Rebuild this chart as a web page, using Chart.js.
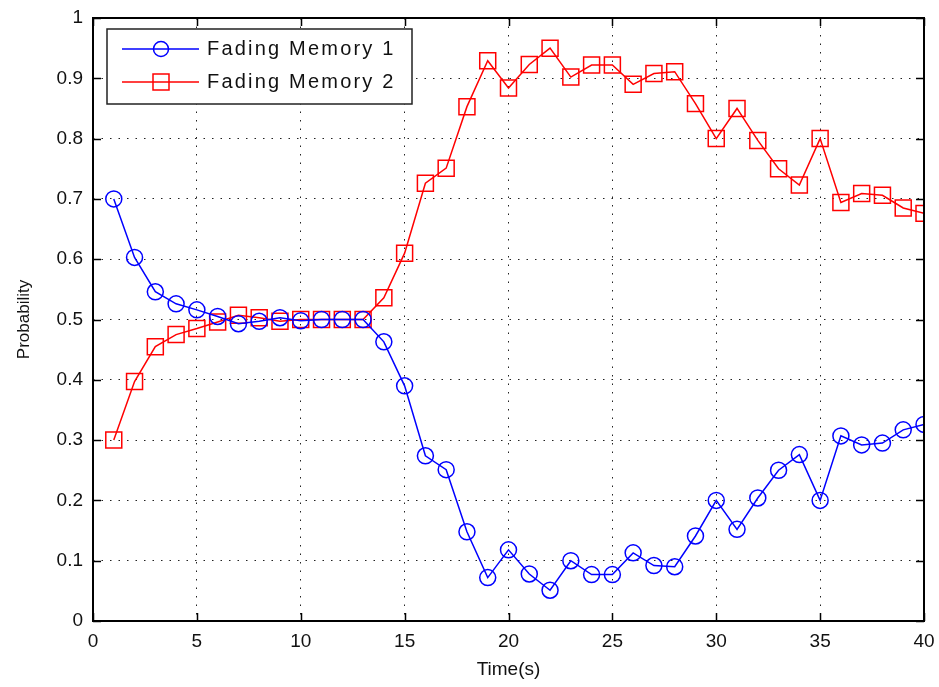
<!DOCTYPE html>
<html><head><meta charset="utf-8">
<script src="https://cdn.jsdelivr.net/npm/chart.js@4"></script>
<style>html,body{margin:0;padding:0;background:#fff;}#wrap{width:939px;height:687px;}</style>
</head><body><div id="wrap"><canvas id="c" width="939" height="687"></canvas></div>
<script>
const times = [1,2,3,4,5,6,7,8,9,10,11,12,13,14,15,16,17,18,19,20,21,22,23,24,25,26,27,28,29,30,31,32,33,34,35,36,37,38,39,40];
const fadingMemory1 = [0.70,0.603,0.546,0.526,0.516,0.505,0.493,0.497,0.503,0.498,0.500,0.500,0.500,0.463,0.390,0.274,0.251,0.148,0.072,0.118,0.078,0.051,0.100,0.077,0.077,0.113,0.092,0.090,0.141,0.200,0.152,0.204,0.250,0.276,0.200,0.307,0.292,0.295,0.317,0.326];
const fadingMemory2 = [0.300,0.397,0.455,0.475,0.485,0.496,0.507,0.503,0.497,0.500,0.500,0.500,0.500,0.536,0.610,0.726,0.751,0.853,0.929,0.884,0.923,0.950,0.902,0.922,0.922,0.890,0.908,0.911,0.858,0.800,0.850,0.797,0.750,0.723,0.800,0.694,0.709,0.706,0.685,0.676];
const seriesNames = ['Fading Memory 1','Fading Memory 2'];
const xTicks = [0,5,10,15,20,25,30,35,40];
const yTicks = [0,0.1,0.2,0.3,0.4,0.5,0.6,0.7,0.8,0.9,1];

const FONT = '"Liberation Sans", Arial, sans-serif';

const boxTicks = {
  id: 'boxTicks',
  afterDraw(chart) {
    const {ctx, chartArea: a, scales: {x, y}} = chart;
    ctx.save();
    ctx.strokeStyle = '#000';
    ctx.lineWidth = 2;
    ctx.strokeRect(a.left, a.top, a.right - a.left, a.bottom - a.top);
    ctx.lineWidth = 1.5;
    const L = 8;
    ctx.beginPath();
    xTicks.forEach(v => {
      const px = Math.round(x.getPixelForValue(v)) + 0.5;
      ctx.moveTo(px, a.bottom); ctx.lineTo(px, a.bottom - L);
      ctx.moveTo(px, a.top); ctx.lineTo(px, a.top + L);
    });
    yTicks.forEach(v => {
      const py = Math.round(y.getPixelForValue(v)) + 0.5;
      ctx.moveTo(a.left, py); ctx.lineTo(a.left + L, py);
      ctx.moveTo(a.right, py); ctx.lineTo(a.right - L, py);
    });
    ctx.stroke();

    // legend
    const lx = 107, ly = 29, lw = 305, lh = 75;
    ctx.fillStyle = '#fff';
    ctx.fillRect(lx, ly, lw, lh);
    ctx.lineWidth = 1.5;
    ctx.strokeStyle = '#222';
    ctx.strokeRect(lx, ly, lw, lh);
    chart.data.datasets.forEach((ds, i) => {
      const cy = ly + 20 + i * 33;
      ctx.strokeStyle = ds.borderColor;
      ctx.lineWidth = 1.5;
      ctx.beginPath(); ctx.moveTo(122, cy); ctx.lineTo(199, cy); ctx.stroke();
      ctx.beginPath();
      if (ds.pointStyle === 'circle') ctx.arc(161, cy, 7.5, 0, Math.PI * 2);
      else ctx.rect(153, cy - 8, 16, 16);
      ctx.stroke();
      ctx.fillStyle = '#111';
      ctx.font = '20px ' + FONT;
      ctx.textBaseline = 'middle';
      ctx.textAlign = 'left';
      try { ctx.letterSpacing = '2.2px'; } catch (e) {}
      ctx.fillText(ds.label, 207, cy);
    });
    ctx.restore();
  }
};

new Chart(document.getElementById('c'), {
  type: 'line',
  data: {
    datasets: [
      { label: seriesNames[0], data: times.map((t, i) => ({x: t, y: fadingMemory1[i]})),
        borderColor: '#0000ff', backgroundColor: 'rgba(0,0,0,0)', borderWidth: 1.5,
        pointStyle: 'circle', pointRadius: 8, pointBorderWidth: 1.5, pointBackgroundColor: 'rgba(0,0,0,0)', tension: 0 },
      { label: seriesNames[1], data: times.map((t, i) => ({x: t, y: fadingMemory2[i]})),
        borderColor: '#ff0000', backgroundColor: 'rgba(0,0,0,0)', borderWidth: 1.5,
        pointStyle: 'rect', pointRadius: 11.3, pointBorderWidth: 1.5, pointBackgroundColor: 'rgba(0,0,0,0)', tension: 0 }
    ]
  },
  options: {
    responsive: false,
    animation: false,
    layout: { padding: { top: 18, right: 15, left: 0, bottom: 0 } },
    plugins: { legend: { display: false }, tooltip: { enabled: false } },
    scales: {
      x: {
        type: 'linear', min: 0, max: 40,
        afterBuildTicks(s) { s.ticks = xTicks.map(v => ({value: v})); },
        afterFit(s) { s.height = 66; s.paddingLeft = 0; s.paddingRight = 0; },
        border: { display: false, dash: [1.5, 7] },
        grid: { color: '#222', lineWidth: 1, drawTicks: false },
        ticks: { color: '#111', font: { family: FONT, size: 19 }, padding: 9, maxRotation: 0, callback: v => String(v) },
        title: { display: true, text: 'Time(s)', color: '#111', font: { family: FONT, size: 19 }, padding: { top: 2, bottom: 6 } }
      },
      y: {
        type: 'linear', min: 0, max: 1,
        afterBuildTicks(s) { s.ticks = yTicks.map(v => ({value: v})); },
        afterFit(s) { s.width = 93; s.paddingTop = 0; s.paddingBottom = 0; },
        border: { display: false, dash: [1.5, 7] },
        grid: { color: '#222', lineWidth: 1, drawTicks: false },
        ticks: { color: '#111', font: { family: FONT, size: 19 }, padding: 10, callback: v => String(Math.round(v * 10) / 10) },
        title: { display: true, text: 'Probability', color: '#111', font: { family: FONT, size: 17 }, padding: { top: 14, bottom: 4 } }
      }
    }
  },
  plugins: [boxTicks]
});
</script></body></html>
